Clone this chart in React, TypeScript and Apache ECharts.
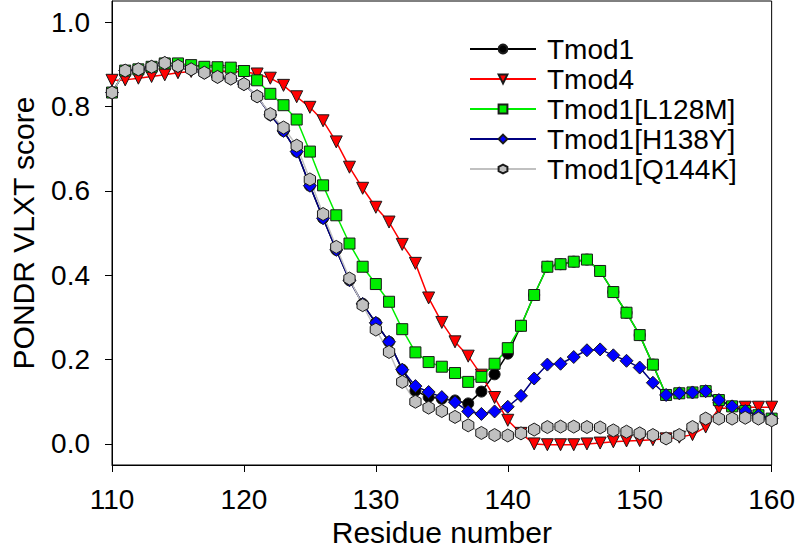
import React, { useEffect, useRef } from "react";
import * as echarts from "echarts";

const residues = [
  110, 111, 112, 113, 114, 115, 116, 117, 118, 119, 120,
  121, 122, 123, 124, 125, 126, 127, 128, 129, 130,
  131, 132, 133, 134, 135, 136, 137, 138, 139, 140,
  141, 142, 143, 144, 145, 146, 147, 148, 149, 150,
  151, 152, 153, 154, 155, 156, 157, 158, 159, 160,
];

const tmod1 = [
  0.833, 0.885, 0.888, 0.894, 0.903, 0.896, 0.888, 0.880, 0.870, 0.866, 0.853,
  0.824, 0.780, 0.742, 0.693, 0.612, 0.535, 0.460, 0.388, 0.332, 0.287,
  0.242, 0.176, 0.126, 0.111, 0.107, 0.103, 0.096, 0.124, 0.165, 0.214,
  0.280, 0.353, 0.420, 0.426, 0.432, 0.437, 0.410, 0.360, 0.311, 0.258,
  0.188, 0.116, 0.120, 0.122, 0.125, 0.104, 0.089, 0.078, 0.068, 0.060,
];

const tmod4 = [
  0.862, 0.863, 0.867, 0.871, 0.875, 0.880, 0.883, 0.884, 0.884, 0.883, 0.882,
  0.877, 0.867, 0.850, 0.823, 0.798, 0.766, 0.716, 0.656, 0.606, 0.561,
  0.526, 0.473, 0.428, 0.346, 0.288, 0.242, 0.208, 0.163, 0.110, 0.056,
  0.025, 0.000, -0.002, -0.002, -0.002, 0.000, 0.002, 0.005, 0.007, 0.008,
  0.010, 0.012, 0.016, 0.022, 0.040, 0.084, 0.086, 0.087, 0.087, 0.087,
];

const l128m = [
  0.833, 0.885, 0.888, 0.894, 0.902, 0.902, 0.898, 0.894, 0.893, 0.892, 0.884,
  0.862, 0.830, 0.803, 0.769, 0.693, 0.613, 0.542, 0.475, 0.420, 0.379,
  0.337, 0.272, 0.217, 0.194, 0.183, 0.168, 0.147, 0.159, 0.190, 0.227,
  0.280, 0.353, 0.420, 0.426, 0.432, 0.437, 0.410, 0.360, 0.311, 0.258,
  0.188, 0.116, 0.120, 0.122, 0.125, 0.104, 0.089, 0.078, 0.068, 0.060,
];

const h138y = [
  0.833, 0.885, 0.888, 0.894, 0.903, 0.896, 0.888, 0.880, 0.870, 0.866, 0.853,
  0.824, 0.780, 0.742, 0.693, 0.612, 0.535, 0.460, 0.388, 0.332, 0.287,
  0.242, 0.176, 0.137, 0.123, 0.111, 0.099, 0.077, 0.071, 0.077, 0.088,
  0.114, 0.155, 0.188, 0.190, 0.206, 0.222, 0.224, 0.210, 0.197, 0.181,
  0.145, 0.116, 0.120, 0.122, 0.125, 0.104, 0.089, 0.078, 0.068, 0.060,
];

const q144k = [
  0.833, 0.885, 0.888, 0.894, 0.903, 0.896, 0.888, 0.880, 0.870, 0.866, 0.853,
  0.824, 0.782, 0.750, 0.707, 0.627, 0.545, 0.467, 0.392, 0.329, 0.271,
  0.218, 0.147, 0.100, 0.086, 0.078, 0.064, 0.044, 0.026, 0.021, 0.020,
  0.025, 0.034, 0.040, 0.041, 0.041, 0.040, 0.039, 0.032, 0.029, 0.025,
  0.021, 0.013, 0.021, 0.040, 0.060, 0.060, 0.060, 0.062, 0.060, 0.056,
];

const yTicks = [0, 0.2, 0.4, 0.6, 0.8, 1.0];
const seriesNames = ["Tmod1", "Tmod4", "Tmod1[L128M]", "Tmod1[H138Y]", "Tmod1[Q144K]"];

const FONT = "'Liberation Sans', Arial, sans-serif";
const HEX = "path://M0,-10L8.66,-5L8.66,5L0,10L-8.66,5L-8.66,-5Z";
const DIAMOND = "path://M0,-10L10,0L0,10L-10,0Z";

function pairs(vals: number[]) {
  return residues.map((r, i) => [r, vals[i]]);
}

export default function App() {
  const ref = useRef<HTMLDivElement>(null);
  useEffect(() => {
    if (!ref.current) return;
    const chart = echarts.init(ref.current, null, { renderer: "svg" });
    const mk = (
      name: string,
      vals: number[],
      lineColor: string,
      fill: string,
      symbol: string,
      size: number,
      rotate = 0
    ) => ({
      name,
      type: "line",
      data: pairs(vals),
      symbol,
      symbolSize: size,
      symbolRotate: rotate,
      symbolKeepAspect: true,
      showAllSymbol: true,
      lineStyle: { color: lineColor, width: 1.5 },
      itemStyle: { color: fill, borderColor: "#1a1a1a", borderWidth: 1 },
      emphasis: { disabled: true },
    });
    chart.setOption({
      animation: false,
      backgroundColor: "#fff",
      grid: {
        left: 110,
        right: 23,
        top: 1,
        bottom: 88,
        show: true,
        borderColor: "#000",
        borderWidth: 1,
        containLabel: false,
      },
      legend: {
        orient: "vertical",
        left: 464,
        top: 30,
        itemWidth: 66,
        itemHeight: 11,
        itemGap: 2,
        data: seriesNames,
        textStyle: {
          fontFamily: FONT,
          fontSize: 28,
          color: "#000",
          padding: [0, 0, 0, 6],
        },
      },
      xAxis: {
        type: "value",
        min: 110,
        max: 160,
        interval: 10,
        name: "Residue number",
        nameLocation: "middle",
        nameGap: 46,
        nameTextStyle: { fontFamily: FONT, fontSize: 30, color: "#000" },
        axisLine: { show: true, onZero: false, lineStyle: { color: "#000", width: 1 } },
        axisTick: { show: true, inside: false, length: 7, lineStyle: { color: "#000" } },
        axisLabel: { fontFamily: FONT, fontSize: 28, color: "#000", margin: 20 },
        splitLine: { show: false },
      },
      yAxis: {
        type: "value",
        min: -0.05,
        max: 1.05,
        name: "PONDR VLXT score",
        nameLocation: "middle",
        nameGap: 74,
        nameTextStyle: { fontFamily: FONT, fontSize: 30, color: "#000" },
        axisLine: { show: true, onZero: false, lineStyle: { color: "#000", width: 1 } },
        axisTick: {
          show: true,
          inside: false,
          length: 7,
          lineStyle: { color: "#000" },
          customValues: yTicks,
        },
        axisLabel: {
          fontFamily: FONT,
          fontSize: 28,
          color: "#000",
          margin: 22,
          customValues: yTicks,
          formatter: (v: number) => v.toFixed(1),
        },
        splitLine: { show: false },
      },
      series: [
        mk(seriesNames[0], tmod1, "#000000", "#000000", "circle", 11),
        mk(seriesNames[1], tmod4, "#ff0000", "#ff0000", "triangle", 12, 180),
        mk(seriesNames[2], l128m, "#00ee00", "#00ee00", "rect", 11),
        mk(seriesNames[3], h138y, "#000080", "#0000ff", DIAMOND, 13),
        mk(seriesNames[4], q144k, "#c0c0c0", "#c0c0c0", HEX, 13),
      ],
    });
    return () => chart.dispose();
  }, []);
  return (
    <div
      ref={ref}
      style={{ position: "fixed", left: 0, top: 0, width: 798, height: 553, background: "#fff" }}
    />
  );
}
